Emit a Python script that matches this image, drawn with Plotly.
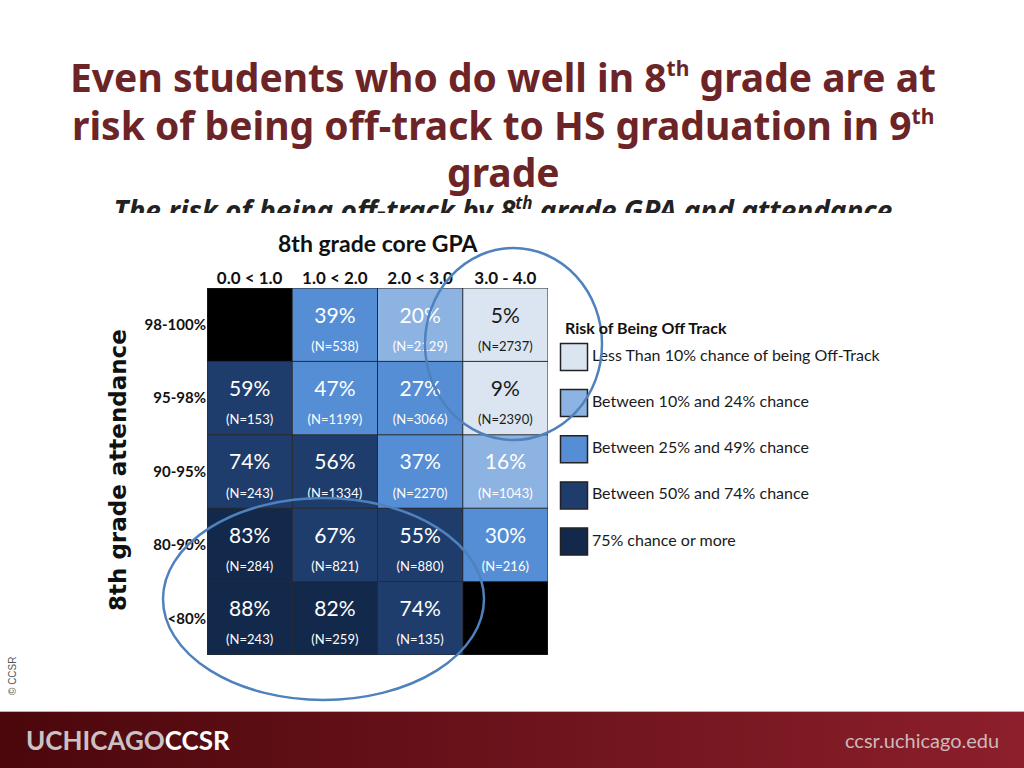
import plotly.graph_objects as go

# 8th grade GPA bands (columns) and attendance bands (rows)
gpa_bands = ["0.0 < 1.0", "1.0 < 2.0", "2.0 < 3.0", "3.0 - 4.0"]
attendance_bands = ["98-100%", "95-98%", "90-95%", "80-90%", "<80%"]

# % off-track in 9th grade, None = no students in that cell
risk = [
    [None, 39, 20, 5],
    [59, 47, 27, 9],
    [74, 56, 37, 16],
    [83, 67, 55, 30],
    [88, 82, 74, None],
]
n_students = [
    [None, 538, 2129, 2737],
    [153, 1199, 3066, 2390],
    [243, 1334, 2270, 1043],
    [284, 821, 880, 216],
    [243, 259, 135, None],
]

legend_labels = [
    "Less Than 10% chance of being Off-Track",
    "Between 10% and 24% chance",
    "Between 25% and 49% chance",
    "Between 50% and 74% chance",
    "75% chance or more",
]
legend_colors = ["#dbe5f1", "#8db3e2", "#558ed5", "#1f3d6c", "#13294b"]
bin_edges = [0, 9.5, 24.5, 49.5, 74.5, 100]

SUP = "<sup><span style='font-size:21px'>th</span></sup>"
title_lines = [
    f"Even students who do well in 8{SUP} grade are at",
    f"risk of being off-track to HS graduation in 9{SUP}",
    "grade",
]

FONT = "Lato, sans-serif"
TITLE_FONT = "Noto Sans, Open Sans, sans-serif"
MAROON = "#6c2427"

# discrete colour scale built from the bins
colorscale = []
for i, c in enumerate(legend_colors):
    colorscale.append([bin_edges[i] / 100, c])
    colorscale.append([bin_edges[i + 1] / 100, c])

missing = [[1 if v is None else None for v in row] for row in risk]
cols_idx = list(range(len(gpa_bands)))
rows_idx = list(range(len(attendance_bands)))

fig = go.Figure()

fig.add_trace(go.Heatmap(z=risk, x=cols_idx, y=rows_idx, zmin=0, zmax=100,
                         colorscale=colorscale, showscale=False, hoverinfo="skip"))
fig.add_trace(go.Heatmap(z=missing, x=cols_idx, y=rows_idx,
                         colorscale=[[0, "black"], [1, "black"]], showscale=False, hoverinfo="skip"))

# cell labels
px_x, px_y, px_txt, px_col = [], [], [], []
nx, ny, ntxt, ncol = [], [], [], []
for r in rows_idx:
    for c in cols_idx:
        v = risk[r][c]
        if v is None:
            continue
        color = "#1a1a1a" if v < 10 else "white"
        px_x.append(c); px_y.append(r - 0.1); px_txt.append(f"{v}%"); px_col.append(color)
        nx.append(c); ny.append(r + 0.31); ntxt.append(f"(N={n_students[r][c]})"); ncol.append(color)

fig.add_trace(go.Scatter(x=px_x, y=px_y, text=px_txt, mode="text", hoverinfo="skip",
                         textfont=dict(family=FONT, size=21, color=px_col), showlegend=False))
fig.add_trace(go.Scatter(x=nx, y=ny, text=ntxt, mode="text", hoverinfo="skip",
                         textfont=dict(family=FONT, size=13, color=ncol), showlegend=False))

# legend drawn as its own little axis
fig.add_trace(go.Scatter(
    x=[24] * len(legend_labels), y=list(range(len(legend_labels))),
    mode="markers+text", text=legend_labels, textposition="middle right",
    marker=dict(symbol="square", size=27, color=legend_colors, line=dict(color="#222", width=1.5)),
    textfont=dict(family=FONT, size=16, color="#1a1a1a"),
    xaxis="x2", yaxis="y2", hoverinfo="skip", showlegend=False))

# footer band + clipped subtitle on a full-page pixel axis
fig.add_trace(go.Scatter(
    x=[0, 1024, 1024, 0, 0], y=[712, 712, 768, 768, 712], mode="lines", fill="toself",
    line=dict(width=0), fillgradient=dict(type="horizontal", colorscale=[[0, "#4b070c"], [1, "#8c1f2b"]]),
    xaxis="x3", yaxis="y3", hoverinfo="skip", showlegend=False))
fig.add_trace(go.Scatter(
    x=[503], y=[214], mode="text",
    text=["<b><i>The risk of being off-track by 8<sup><span style='font-size:17px'>th</span></sup>"
          " grade GPA and attendance</i></b>"],
    textfont=dict(family=TITLE_FONT, size=28, color="#222"),
    xaxis="x3", yaxis="y3", hoverinfo="skip", showlegend=False))

shapes = []
# cell borders
for c in range(len(gpa_bands) + 1):
    shapes.append(dict(type="line", xref="x", yref="y", x0=c - 0.5, x1=c - 0.5, y0=-0.5, y1=4.5,
                       line=dict(color="#2a2a2a", width=1), layer="above"))
for r in range(len(attendance_bands) + 1):
    shapes.append(dict(type="line", xref="x", yref="y", x0=-0.5, x1=3.5, y0=r - 0.5, y1=r - 0.5,
                       line=dict(color="#2a2a2a", width=1), layer="above"))
# image edge hiding the bottom of the subtitle
shapes.append(dict(type="rect", xref="x3", yref="y3", x0=90, x1=930, y0=213, y1=236,
                   fillcolor="white", line=dict(width=0), layer="above"))
# highlight ellipses
shapes.append(dict(type="circle", xref="x3", yref="y3", x0=425, x1=602, y0=248, y1=440,
                   line=dict(color="#4f81bd", width=2.5), layer="above"))
shapes.append(dict(type="circle", xref="x3", yref="y3", x0=163, x1=484, y0=498, y1=700,
                   line=dict(color="#4f81bd", width=2.5), layer="above"))
shapes.append(dict(type="line", xref="x3", yref="y3", x0=0, x1=1024, y0=711.5, y1=711.5,
                   line=dict(color="#d8a7ad", width=1), layer="above"))


def ann(text, x, y, size, family=FONT, color="#111", xanchor="center", **kw):
    return dict(text=text, x=x / 1024, y=1 - y / 768, xref="paper", yref="paper",
                xanchor=xanchor, yanchor="middle", showarrow=False,
                font=dict(family=family, size=size, color=color), **kw)


annotations = []
for i, line in enumerate(title_lines):
    annotations.append(ann(f"<b>{line}</b>", 503, 77 + 47 * i, 39, family=TITLE_FONT, color=MAROON))
annotations += [
    ann("<b>8th grade core GPA</b>", 378, 243, 23),
    ann("<b>8th grade attendance</b>", 118, 470, 23, family="DejaVu Sans", textangle=-90),
    ann("<b>Risk of Being Off Track</b>", 563, 328, 16, xanchor="left"),
    ann("© CCSR", 12, 676, 10, family="Liberation Sans", color="#555", textangle=-90),
    ann("<b><span style='color:#cbc3c3'>UCHICAGO</span>CCSR</b>", 24, 740, 26, color="white", xanchor="left"),
    ann("ccsr.uchicago.edu", 1001, 740, 20, color="#cdb9bb", xanchor="right"),
]

fig.update_layout(
    width=1024, height=768,
    margin=dict(l=0, r=0, t=0, b=0),
    paper_bgcolor="white", plot_bgcolor="rgba(0,0,0,0)",
    showlegend=False,
    shapes=shapes, annotations=annotations,
    xaxis=dict(domain=[207 / 1024, 548 / 1024], range=[-0.5, 3.5], tickvals=cols_idx, ticktext=gpa_bands,
               side="top", showgrid=False, zeroline=False, ticks="", showline=False,
               tickfont=dict(family=FONT, size=17, color="#111", weight="bold")),
    yaxis=dict(domain=[1 - 655 / 768, 1 - 288 / 768], range=[4.5, -0.5], tickvals=rows_idx,
               ticktext=attendance_bands, showgrid=False, zeroline=False, ticks="", showline=False,
               tickfont=dict(family=FONT, size=15, color="#111", weight="bold")),
    xaxis2=dict(domain=[550 / 1024, 980 / 1024], range=[0, 430], visible=False),
    yaxis2=dict(domain=[1 - 560 / 768, 1 - 320 / 768], range=[4.4, -0.8], visible=False),
    xaxis3=dict(domain=[0, 1], range=[0, 1024], visible=False, fixedrange=True),
    yaxis3=dict(domain=[0, 1], range=[768, 0], visible=False, fixedrange=True),
)

fig.write_html("out.html", config={"displayModeBar": False},
               post_script="document.body.style.margin='0';")
